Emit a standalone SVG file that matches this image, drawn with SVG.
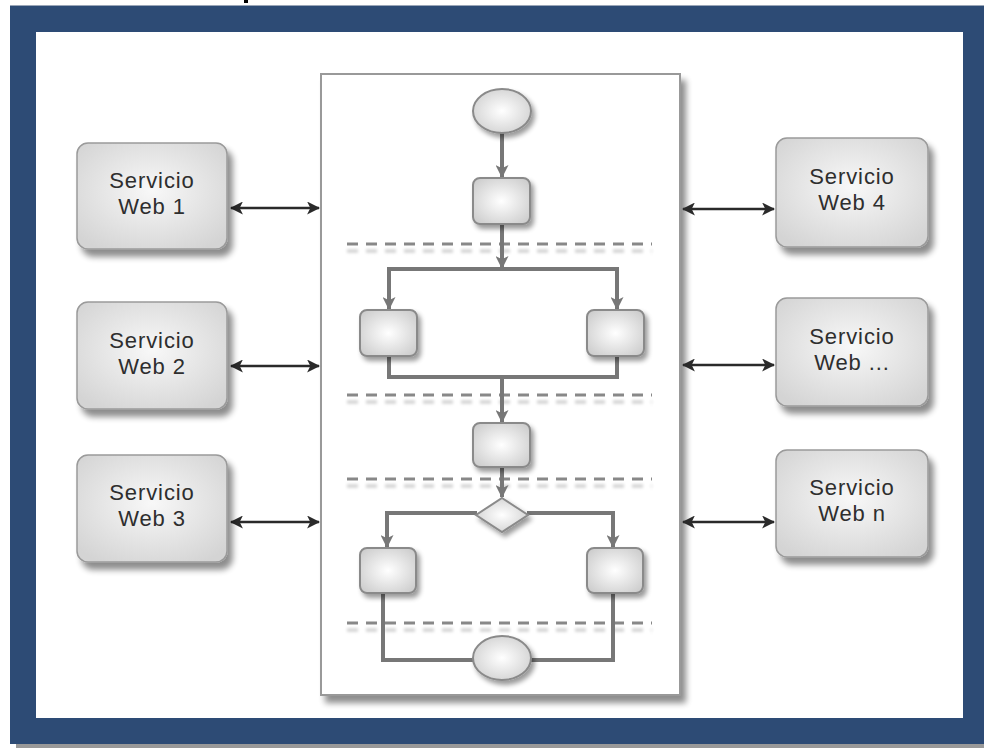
<svg xmlns="http://www.w3.org/2000/svg" width="984" height="748" viewBox="0 0 984 748">
  <defs>
    <filter id="sh" x="-20%" y="-20%" width="150%" height="150%">
      <feGaussianBlur in="SourceAlpha" stdDeviation="3"/>
      <feOffset dx="5" dy="7" result="b"/>
      <feComponentTransfer><feFuncA type="linear" slope="0.45"/></feComponentTransfer>
      <feMerge><feMergeNode/><feMergeNode in="SourceGraphic"/></feMerge>
    </filter>
    <filter id="shs" x="-30%" y="-30%" width="170%" height="170%">
      <feGaussianBlur in="SourceAlpha" stdDeviation="2.5"/>
      <feOffset dx="3" dy="4" result="b"/>
      <feComponentTransfer><feFuncA type="linear" slope="0.4"/></feComponentTransfer>
      <feMerge><feMergeNode/><feMergeNode in="SourceGraphic"/></feMerge>
    </filter>
    <filter id="blur" x="-5%" y="-100%" width="110%" height="300%">
      <feGaussianBlur stdDeviation="1.5"/>
    </filter>
    <radialGradient id="gsvc" cx="50%" cy="45%" r="65%">
      <stop offset="0" stop-color="#f8f8f8"/>
      <stop offset="1" stop-color="#d4d4d4"/>
    </radialGradient>
    <radialGradient id="gsm" cx="50%" cy="50%" r="60%">
      <stop offset="0" stop-color="#ffffff"/>
      <stop offset="1" stop-color="#cfcfcf"/>
    </radialGradient>
    <marker id="ah" viewBox="0 0 12 12" refX="11" refY="6" markerWidth="13" markerHeight="13" markerUnits="userSpaceOnUse" orient="auto">
      <path d="M0,0 L12,6 L0,12 L3,6 z" fill="#777"/>
    </marker>
    <marker id="bk" viewBox="0 0 12 12" refX="11" refY="6" markerWidth="13" markerHeight="13" markerUnits="userSpaceOnUse" orient="auto-start-reverse">
      <path d="M0,0 L12,6 L0,12 L3,6 z" fill="#2a2a2a"/>
    </marker>
  </defs>
  <style>
    .svc { fill: url(#gsvc); stroke: #9a9a9a; stroke-width: 1.5; filter: url(#sh); }
    .sm { fill: url(#gsm); stroke: #8a8a8a; stroke-width: 2; filter: url(#shs); }
    .lbl { font-family: "Liberation Sans", Arial, sans-serif; font-size: 22px; letter-spacing: 0.9px; fill: #2e2e2e; text-anchor: middle; }
    .flow { fill: none; stroke: #777; stroke-width: 4; }
    .ex { fill: none; stroke: #2a2a2a; stroke-width: 2.5; marker-start: url(#bk); marker-end: url(#bk); }
    .dash { fill: none; stroke: #888; stroke-width: 3; stroke-dasharray: 11 8; }
    .dsh { fill: none; stroke: #d2d2d2; stroke-width: 3.5; stroke-dasharray: 11 8; filter: url(#blur); }
  </style>

  <!-- frame -->
  <rect x="16" y="10" width="968" height="738" fill="#999"/>
  <rect x="10" y="5" width="974" height="739" fill="#2d4b75"/>
  <line x1="10" y1="5.5" x2="984" y2="5.5" stroke="#9aa6b8" stroke-width="1"/>
  <rect x="36" y="32" width="927" height="686" fill="#ffffff"/>
  <rect x="244" y="0" width="4" height="3" fill="#000"/>

  <!-- central panel -->
  <g id="panel">
    <rect x="321" y="74" width="359" height="621" fill="#fff" stroke="#999" stroke-width="2" filter="url(#sh)"/>
  </g>

  <!-- lane separators -->
  <g id="lanes">
    <path class="dsh" d="M347,251 H652 M347,402 H652 M347,486 H652 M347,630 H652"/>
    <path class="dash" d="M347,244 H652 M347,395 H652 M347,479 H652 M347,623 H652"/>
  </g>

  <!-- connectors -->
  <g id="connectors">
    <path class="flow" d="M502,133 V177" marker-end="url(#ah)"/>
    <path class="flow" d="M502,224 V268" marker-end="url(#ah)"/>
    <path class="flow" d="M387,269 H619"/>
    <path class="flow" d="M389,269 V309" marker-end="url(#ah)"/>
    <path class="flow" d="M617,269 V309" marker-end="url(#ah)"/>
    <path class="flow" d="M389,356 V377 H617 V356"/>
    <path class="flow" d="M502,377 V422" marker-end="url(#ah)"/>
    <path class="flow" d="M502,467 V497" marker-end="url(#ah)"/>
    <path class="flow" d="M477,513 H387 V547" marker-end="url(#ah)"/>
    <path class="flow" d="M527,513 H613 V547" marker-end="url(#ah)"/>
    <path class="flow" d="M383,593 V660 H474"/>
    <path class="flow" d="M613,593 V660 H530"/>
    <path class="ex" d="M231,208 H319"/>
    <path class="ex" d="M231,366 H319"/>
    <path class="ex" d="M231,522 H319"/>
    <path class="ex" d="M683,209 H774"/>
    <path class="ex" d="M683,365 H774"/>
    <path class="ex" d="M683,522 H774"/>
  </g>

  <!-- flow nodes -->
  <g id="start"><ellipse class="sm" cx="502" cy="111" rx="29" ry="22"/></g>
  <g id="step1"><rect class="sm" x="473" y="178" width="57" height="46" rx="7"/></g>
  <g id="step2a"><rect class="sm" x="360" y="310" width="57" height="46" rx="7"/></g>
  <g id="step2b"><rect class="sm" x="587" y="310" width="57" height="46" rx="7"/></g>
  <g id="step3"><rect class="sm" x="473" y="423" width="57" height="44" rx="7"/></g>
  <g id="decision"><path class="sm" d="M502,498 L528,515 L502,532 L476,515 Z"/></g>
  <g id="step4a"><rect class="sm" x="360" y="548" width="56" height="45" rx="7"/></g>
  <g id="step4b"><rect class="sm" x="587" y="548" width="56" height="45" rx="7"/></g>
  <g id="end"><ellipse class="sm" cx="502" cy="658" rx="29" ry="22"/></g>

  <!-- services -->
  <g id="web1">
    <rect class="svc" x="77" y="143" width="150" height="106" rx="11"/>
    <text class="lbl" x="152" y="188">Servicio</text>
    <text class="lbl" x="152" y="214">Web 1</text>
  </g>
  <g id="web2">
    <rect class="svc" x="77" y="302" width="150" height="107" rx="11"/>
    <text class="lbl" x="152" y="348">Servicio</text>
    <text class="lbl" x="152" y="374">Web 2</text>
  </g>
  <g id="web3">
    <rect class="svc" x="77" y="455" width="150" height="107" rx="11"/>
    <text class="lbl" x="152" y="500">Servicio</text>
    <text class="lbl" x="152" y="526">Web 3</text>
  </g>
  <g id="web4">
    <rect class="svc" x="776" y="138" width="152" height="109" rx="11"/>
    <text class="lbl" x="852" y="184">Servicio</text>
    <text class="lbl" x="852" y="210">Web 4</text>
  </g>
  <g id="webdots">
    <rect class="svc" x="776" y="298" width="152" height="108" rx="11"/>
    <text class="lbl" x="852" y="344">Servicio</text>
    <text class="lbl" x="852" y="370">Web ...</text>
  </g>
  <g id="webn">
    <rect class="svc" x="776" y="450" width="152" height="107" rx="11"/>
    <text class="lbl" x="852" y="495">Servicio</text>
    <text class="lbl" x="852" y="521">Web n</text>
  </g>
</svg>
